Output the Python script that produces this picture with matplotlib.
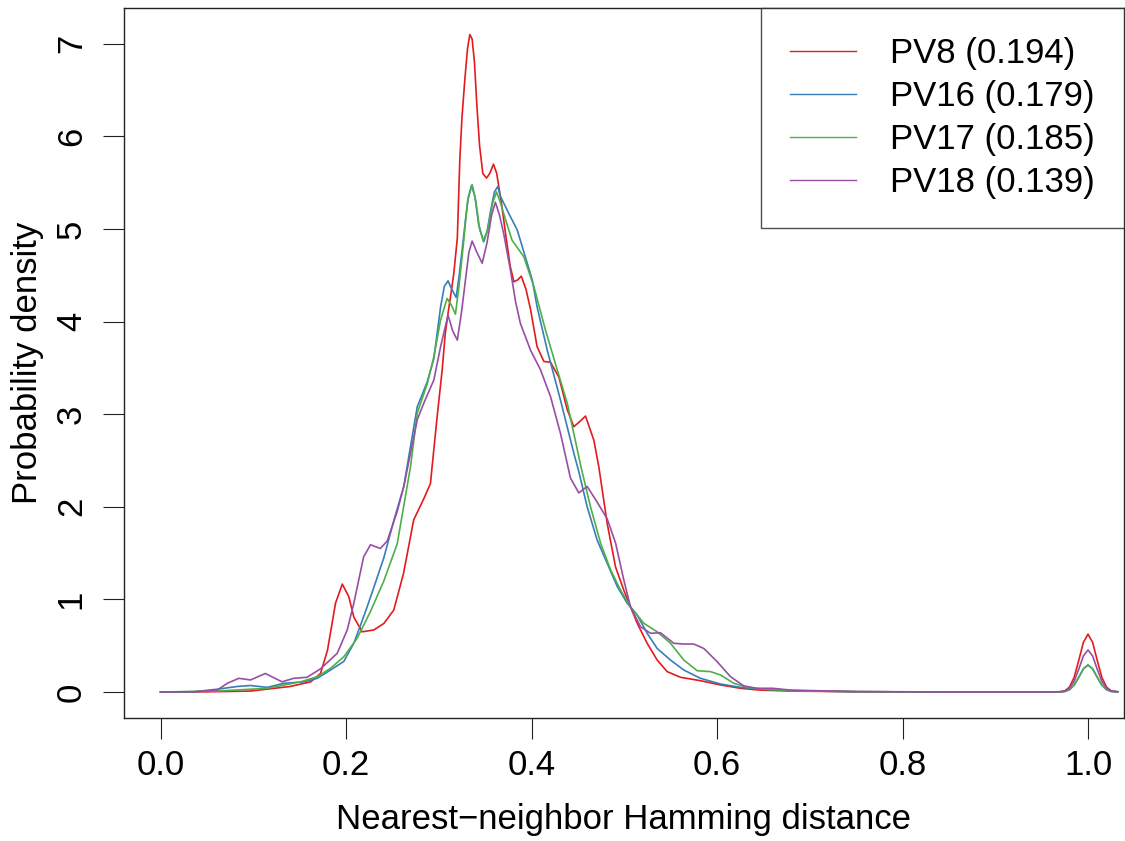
import matplotlib
matplotlib.use("Agg")
import matplotlib.pyplot as plt

plt.rcParams["font.family"] = ["Liberation Sans", "DejaVu Sans"]

# values
pv8_x = [0.0, 0.05, 0.097, 0.14, 0.162, 0.1725, 0.18, 0.1887, 0.196, 0.203,
         0.2084, 0.2174, 0.23, 0.2408, 0.2515, 0.262, 0.273, 0.284, 0.291, 0.298,
         0.3037, 0.307, 0.310, 0.3137, 0.3162, 0.320, 0.3227, 0.325, 0.328, 0.331,
         0.3335, 0.336, 0.3385, 0.341, 0.344, 0.3475, 0.3515, 0.355, 0.359, 0.3625,
         0.368, 0.372, 0.377, 0.381, 0.385, 0.389, 0.394, 0.399, 0.406, 0.4133,
         0.4205, 0.4295, 0.4385, 0.4456, 0.452, 0.4582, 0.4672, 0.4726, 0.4816, 0.4906,
         0.4995, 0.5067, 0.514, 0.5247, 0.5355, 0.5463, 0.5606, 0.5822, 0.6038, 0.6253,
         0.647, 0.68, 0.75, 0.85, 0.95, 0.97, 0.975, 0.98, 0.985, 0.99,
         0.995, 1.0, 1.005, 1.01, 1.015, 1.02, 1.025, 1.032]
pv8_y = [0.0, 0.002, 0.01, 0.06, 0.11, 0.2, 0.45, 0.96, 1.165, 1.03,
         0.81, 0.65, 0.67, 0.74, 0.885, 1.28, 1.86, 2.09, 2.25, 2.95,
         3.48, 3.87, 4.09, 4.34, 4.52, 4.9, 5.75, 6.2, 6.6, 6.95,
         7.1, 7.05, 6.8, 6.35, 5.9, 5.6, 5.55, 5.6, 5.7, 5.6,
         5.25, 4.95, 4.6, 4.43, 4.45, 4.49, 4.35, 4.13, 3.73, 3.57,
         3.56, 3.4, 3.05, 2.865, 2.92, 2.98, 2.72, 2.43, 1.82, 1.35,
         1.1, 0.92, 0.742, 0.526, 0.345, 0.22, 0.159, 0.122, 0.076, 0.04,
         0.02, 0.01, 0.003, 0.0, 0.0, 0.003, 0.013, 0.053, 0.156, 0.34,
         0.535, 0.625, 0.535, 0.34, 0.156, 0.053, 0.013, 0.003]

pv16_x = [0.0, 0.036, 0.061, 0.083, 0.097, 0.115, 0.133, 0.1545, 0.169, 0.1833,
          0.1976, 0.2084, 0.2156, 0.2228, 0.23, 0.2408, 0.2515, 0.2623, 0.2695, 0.2768,
          0.2876, 0.2947, 0.302, 0.306, 0.310, 0.314, 0.3188, 0.322, 0.3255, 0.3288,
          0.332, 0.3353, 0.339, 0.343, 0.348, 0.352, 0.356, 0.36, 0.3637, 0.3666,
          0.3774, 0.3846, 0.39, 0.3954, 0.4008, 0.406, 0.417, 0.4313, 0.4456, 0.451,
          0.46, 0.4708, 0.4816, 0.4924, 0.5032, 0.514, 0.5247, 0.5355, 0.5499, 0.5642,
          0.5822, 0.6038, 0.6253, 0.65, 0.68, 0.75, 0.85, 0.95, 0.97, 0.975,
          0.98, 0.985, 0.99, 0.995, 1.0, 1.005, 1.01, 1.015, 1.02, 1.025,
          1.032]
pv16_y = [0.0, 0.003, 0.03, 0.06, 0.07, 0.05, 0.094, 0.11, 0.148, 0.237,
          0.33, 0.526, 0.72, 0.92, 1.13, 1.45, 1.85, 2.22, 2.65, 3.08,
          3.35, 3.6, 4.16, 4.38, 4.44, 4.35, 4.26, 4.5, 4.8, 5.1,
          5.35, 5.47, 5.35, 5.05, 4.87, 4.97, 5.2, 5.4, 5.46, 5.35,
          5.13, 4.99, 4.81, 4.63, 4.45, 4.16, 3.69, 3.15, 2.58, 2.38,
          2.0, 1.64, 1.39, 1.14, 0.958, 0.83, 0.634, 0.47, 0.345, 0.237,
          0.148, 0.086, 0.05, 0.03, 0.015, 0.003, 0.0, 0.0, 0.002, 0.006,
          0.025, 0.073, 0.158, 0.25, 0.292, 0.25, 0.158, 0.073, 0.025, 0.006,
          0.002]

pv17_x = [0.0, 0.061, 0.115, 0.151, 0.169, 0.1833, 0.1976, 0.212, 0.2264, 0.2408,
          0.2552, 0.2695, 0.2768, 0.2876, 0.2947, 0.302, 0.309, 0.3135, 0.318, 0.322,
          0.327, 0.331, 0.336, 0.34, 0.344, 0.3486, 0.353, 0.358, 0.3623, 0.366,
          0.372, 0.379, 0.3917, 0.4025, 0.415, 0.4277, 0.4385, 0.4493, 0.4529, 0.4636,
          0.4744, 0.4852, 0.496, 0.5067, 0.5211, 0.5355, 0.5499, 0.5642, 0.5786, 0.593,
          0.6038, 0.6181, 0.6325, 0.65, 0.68, 0.75, 0.85, 0.95, 0.97, 0.975,
          0.98, 0.985, 0.99, 0.995, 1.0, 1.005, 1.01, 1.015, 1.02, 1.025,
          1.032]
pv17_y = [0.0, 0.01, 0.04, 0.11, 0.165, 0.256, 0.38, 0.58, 0.87, 1.2,
          1.6, 2.43, 3.01, 3.33, 3.62, 4.02, 4.25, 4.18, 4.08, 4.4,
          4.88, 5.3, 5.48, 5.3, 5.0, 4.86, 5.0, 5.28, 5.4, 5.3,
          5.1, 4.88, 4.7, 4.38, 3.91, 3.48, 3.12, 2.62, 2.45, 2.0,
          1.61, 1.32, 1.1, 0.92, 0.742, 0.65, 0.526, 0.345, 0.23, 0.22,
          0.184, 0.094, 0.05, 0.03, 0.015, 0.003, 0.0, 0.0, 0.002, 0.006,
          0.025, 0.073, 0.158, 0.25, 0.292, 0.25, 0.158, 0.073, 0.025, 0.006,
          0.002]

pv18_x = [0.0, 0.036, 0.061, 0.072, 0.0845, 0.097, 0.113, 0.131, 0.1437, 0.158,
          0.1725, 0.1905, 0.2013, 0.2084, 0.219, 0.2264, 0.237, 0.2444, 0.2552, 0.2623,
          0.2768, 0.2839, 0.2947, 0.302, 0.310, 0.315, 0.320, 0.3245, 0.3288, 0.3325,
          0.336, 0.341, 0.3468, 0.352, 0.357, 0.361, 0.3655, 0.370, 0.3774, 0.3827,
          0.388, 0.399, 0.4097, 0.4205, 0.4313, 0.442, 0.451, 0.46, 0.4708, 0.4816,
          0.4906, 0.4995, 0.5067, 0.5175, 0.5283, 0.539, 0.5534, 0.5642, 0.575, 0.5858,
          0.6002, 0.6146, 0.629, 0.643, 0.66, 0.68, 0.75, 0.85, 0.95, 0.97,
          0.975, 0.98, 0.985, 0.99, 0.995, 1.0, 1.005, 1.01, 1.015, 1.02,
          1.025, 1.032]
pv18_y = [0.0, 0.003, 0.02, 0.094, 0.148, 0.13, 0.2, 0.11, 0.148, 0.159,
          0.25, 0.418, 0.67, 0.958, 1.46, 1.59, 1.55, 1.63, 1.95, 2.22,
          2.94, 3.12, 3.37, 3.73, 4.07, 3.9, 3.8, 4.1, 4.45, 4.75,
          4.87, 4.75, 4.63, 4.85, 5.15, 5.29, 5.15, 4.95, 4.55, 4.22,
          3.98, 3.69, 3.48, 3.19, 2.79, 2.31, 2.15, 2.22, 2.05, 1.87,
          1.61, 1.21, 0.92, 0.705, 0.634, 0.64, 0.526, 0.518, 0.518, 0.47,
          0.327, 0.165, 0.065, 0.04, 0.04, 0.02, 0.005, 0.0, 0.0, 0.002,
          0.01, 0.039, 0.114, 0.245, 0.389, 0.454, 0.389, 0.245, 0.114, 0.039,
          0.01, 0.002]

series_labels = ["PV8 (0.194)", "PV16 (0.179)", "PV17 (0.185)", "PV18 (0.139)"]
series_colors = ["#E41A1C", "#377EB8", "#4DAF4A", "#984EA3"]
x_ticks = [0.0, 0.2, 0.4, 0.6, 0.8, 1.0]
y_ticks = [0, 1, 2, 3, 4, 5, 6, 7]

fig = plt.figure(figsize=(11.25, 8.41), dpi=100)
ax = fig.add_axes([0.1102, 0.1459, 0.8889, 0.8443])

all_x = [pv8_x, pv16_x, pv17_x, pv18_x]
all_y = [pv8_y, pv16_y, pv17_y, pv18_y]
for xs, ys, col, lab in zip(all_x, all_y, series_colors, series_labels):
    ax.plot(xs, ys, color=col, linewidth=1.2, label=lab)

ax.set_xlim(-0.0394, 1.0388)
ax.set_ylim(-0.284, 7.384)
ax.set_xticks(x_ticks)
ax.set_xticklabels([f"{t:.1f}" for t in x_ticks])
ax.set_yticks(y_ticks)
ax.set_yticklabels([str(t) for t in y_ticks], rotation=90, va="center")
ax.tick_params(direction="out", length=15, width=0.8, labelsize=25, color="#222222")
ax.tick_params(axis="x", pad=7)
ax.tick_params(axis="y", pad=11)
for sp in ax.spines.values():
    sp.set_linewidth(1.0)
    sp.set_color("#222222")

ax.set_xlabel("Nearest\u2212neighbor Hamming distance", fontsize=25, va="center")
ax.xaxis.set_label_coords(0.5, -0.1432)
ax.set_ylabel("Probability density", fontsize=25, va="center")
ax.yaxis.set_label_coords(-0.096, 0.5)

leg = ax.legend(loc="upper right", fontsize=25, frameon=True, fancybox=False,
                borderaxespad=0, borderpad=0.83, handlelength=1.9,
                handletextpad=1.0, labelspacing=0.29)
leg.get_frame().set_edgecolor("#222222")
leg.get_frame().set_linewidth(1.0)
for line in leg.get_lines():
    line.set_linewidth(1.0)

fig.savefig("out.png", dpi=100)
